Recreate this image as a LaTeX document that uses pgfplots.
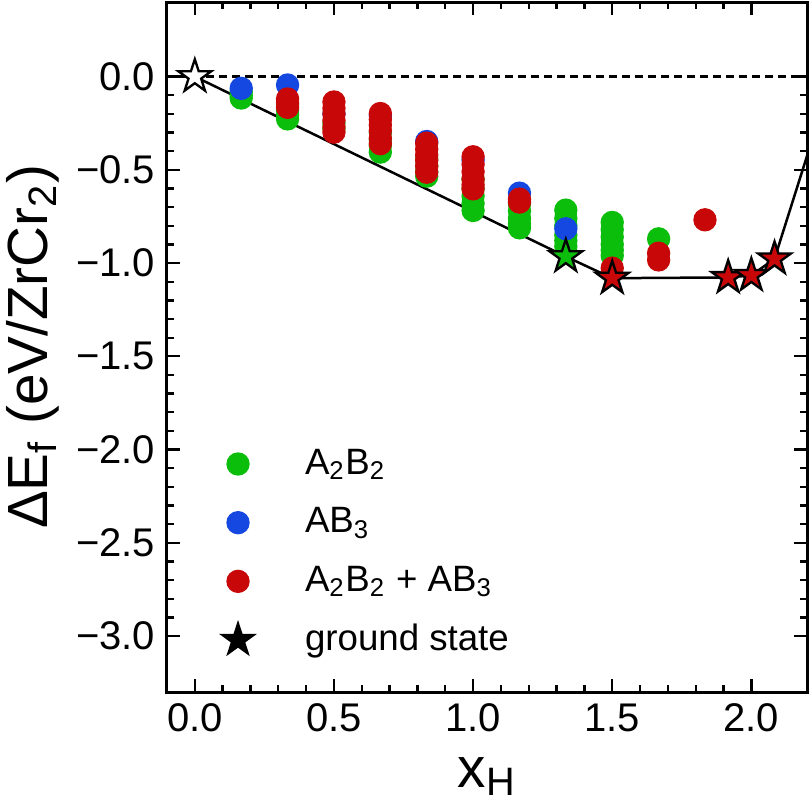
\documentclass[border=0pt]{standalone}
\usepackage{fontspec}
\setmainfont{Liberation Sans}
\usepackage{pgfplots}
\pgfplotsset{compat=1.18}

\definecolor{cgreen}{RGB}{12,190,12}
\definecolor{cblue}{RGB}{20,72,224}
\definecolor{cred}{RGB}{200,8,8}

% filled five-pointed star marker
\pgfdeclareplotmark{pstar}{%
  \pgfpathmoveto{\pgfpointpolar{90}{\pgfplotmarksize}}%
  \pgfpathlineto{\pgfpointpolar{126}{0.382\pgfplotmarksize}}%
  \pgfpathlineto{\pgfpointpolar{162}{\pgfplotmarksize}}%
  \pgfpathlineto{\pgfpointpolar{198}{0.382\pgfplotmarksize}}%
  \pgfpathlineto{\pgfpointpolar{234}{\pgfplotmarksize}}%
  \pgfpathlineto{\pgfpointpolar{270}{0.382\pgfplotmarksize}}%
  \pgfpathlineto{\pgfpointpolar{306}{\pgfplotmarksize}}%
  \pgfpathlineto{\pgfpointpolar{342}{0.382\pgfplotmarksize}}%
  \pgfpathlineto{\pgfpointpolar{18}{\pgfplotmarksize}}%
  \pgfpathlineto{\pgfpointpolar{54}{0.382\pgfplotmarksize}}%
  \pgfpathclose
  \pgfusepathqfillstroke
}

\begin{document}
\begin{tikzpicture}
\begin{axis}[
  scale only axis,
  width=192pt, height=207pt,
  xmin=-0.1, xmax=2.2, ymin=-3.3, ymax=0.4,
  xtick={0,0.5,1,1.5,2},
  xticklabels={0.0,0.5,1.0,1.5,2.0},
  ytick={-3,-2.5,-2,-1.5,-1,-0.5,0},
  yticklabels={−3.0,−2.5,−2.0,−1.5,−1.0,−0.5,0.0},
  minor x tick num=4, minor y tick num=4,
  tick align=inside,
  major tick length=3.9pt, minor tick length=2.1pt,
  axis line style={line width=0.9pt},
  every tick/.style={black, line width=0.7pt},
  tick label style={font=\fontsize{12}{14}\selectfont},
  xlabel={x\textsubscript{H}},
  ylabel={ΔE\textsubscript{f} (eV/ZrCr\textsubscript{2})},
  label style={font=\fontsize{17}{20}\selectfont},
  xlabel style={at={(axis description cs:0.5,0)}, anchor=base, yshift=-28.5pt},
  ylabel style={at={(axis description cs:-0.209,0.5)}, anchor=center},
  legend image code/.code={%
    \path[draw=none, fill=none] (-10pt,-6pt) rectangle (10pt,6pt);
    \draw[#1] plot coordinates {(0pt,0pt)};},
  legend style={draw=none, fill=none, inner sep=0pt, outer sep=0pt,
    at={(axis description cs:0.0589,0.3594)}, anchor=north west,
    font=\fontsize{11}{13}\selectfont, row sep=5.6pt, column sep=10.1pt,
    nodes={inner sep=0pt}},
  legend cell align=left,
  clip=true,
]
% A2B2 configurations
\addplot[only marks, mark=*, mark size=3.3pt, color=cgreen, mark options={draw=none, fill=cgreen}]
  coordinates {
  (0.1667,-0.080) (0.1667,-0.100) (0.1667,-0.115)
  (0.3333,-0.150) (0.3333,-0.180) (0.3333,-0.205) (0.3333,-0.227)
  (0.5,-0.250) (0.5,-0.280)
  (0.6667,-0.300) (0.6667,-0.340) (0.6667,-0.370) (0.6667,-0.405)
  (0.8333,-0.440) (0.8333,-0.480) (0.8333,-0.510) (0.8333,-0.534)
  (1.0,-0.550) (1.0,-0.600) (1.0,-0.640) (1.0,-0.680) (1.0,-0.718)
  (1.1667,-0.680) (1.1667,-0.720) (1.1667,-0.760) (1.1667,-0.790) (1.1667,-0.811)
  (1.3333,-0.716) (1.3333,-0.760) (1.3333,-0.800) (1.3333,-0.850) (1.3333,-0.880) (1.3333,-0.910)
  (1.5,-0.782) (1.5,-0.820) (1.5,-0.860) (1.5,-0.900) (1.5,-0.930) (1.5,-0.960)
  (1.6667,-0.870)
  };
\addlegendentry{A\textsubscript{2}B\textsubscript{2}}
% AB3 configurations
\addplot[only marks, mark=*, mark size=3.3pt, color=cblue, mark options={draw=none, fill=cblue}]
  coordinates {
  (0.1667,-0.063) (0.3333,-0.045) (0.5,-0.200) (0.6667,-0.210)
  (0.8333,-0.348) (1.0,-0.447) (1.1667,-0.625) (1.3333,-0.816)
  };
\addlegendentry{AB\textsubscript{3}}
% mixed A2B2 + AB3 configurations
\addplot[only marks, mark=*, mark size=3.3pt, color=cred, mark options={draw=none, fill=cred}]
  coordinates {
  (0.3333,-0.120) (0.3333,-0.140) (0.3333,-0.165)
  (0.5,-0.136) (0.5,-0.170) (0.5,-0.200) (0.5,-0.235) (0.5,-0.270) (0.5,-0.298)
  (0.6667,-0.198) (0.6667,-0.230) (0.6667,-0.260) (0.6667,-0.290) (0.6667,-0.330) (0.6667,-0.360)
  (0.8333,-0.357) (0.8333,-0.390) (0.8333,-0.420) (0.8333,-0.450) (0.8333,-0.480) (0.8333,-0.513)
  (1.0,-0.430) (1.0,-0.470) (1.0,-0.510) (1.0,-0.550) (1.0,-0.580) (1.0,-0.602)
  (1.1667,-0.657) (1.1667,-0.673)
  (1.5,-1.027)
  (1.6667,-0.947) (1.6667,-0.983)
  (1.8333,-0.768)
  };
\addlegendentry{A\textsubscript{2}B\textsubscript{2} + AB\textsubscript{3}}
% reference line
\addplot[forget plot, black, line width=0.7pt, dash pattern=on 2.4pt off 1.5pt]
  coordinates {(-0.1,0) (2.2,0)};
% convex hull
\addplot[forget plot, black, line width=0.75pt]
  coordinates {(0,0) (1.3333,-0.965) (1.5,-1.081) (1.9167,-1.077) (2.0,-1.066) (2.0833,-0.977) (2.25,-0.19)};
% ground states
\addplot[forget plot, only marks, mark=pstar, mark size=5.2pt, mark options={draw=black, fill=white, line width=0.7pt}]
  coordinates {(0,0)};
\addplot[forget plot, only marks, mark=pstar, mark size=5.2pt, mark options={draw=black, fill=cgreen, line width=0.7pt}]
  coordinates {(1.3333,-0.965)};
\addplot[forget plot, only marks, mark=pstar, mark size=5.2pt, mark options={draw=black, fill=cred, line width=0.7pt}]
  coordinates {(1.5,-1.081) (1.9167,-1.077) (2.0,-1.066) (2.0833,-0.977)};
\addlegendimage{only marks, mark=pstar, mark size=5.2pt, mark options={draw=black, fill=black, line width=0.5pt}}
\addlegendentry{ground state}
\end{axis}
\pgfresetboundingbox
\path[use as bounding box] ([shift={(-50.1pt,-32.7pt)}]current axis.south west)
  rectangle ([shift={(0.9pt,0.6pt)}]current axis.north east);
\end{tikzpicture}
\end{document}
